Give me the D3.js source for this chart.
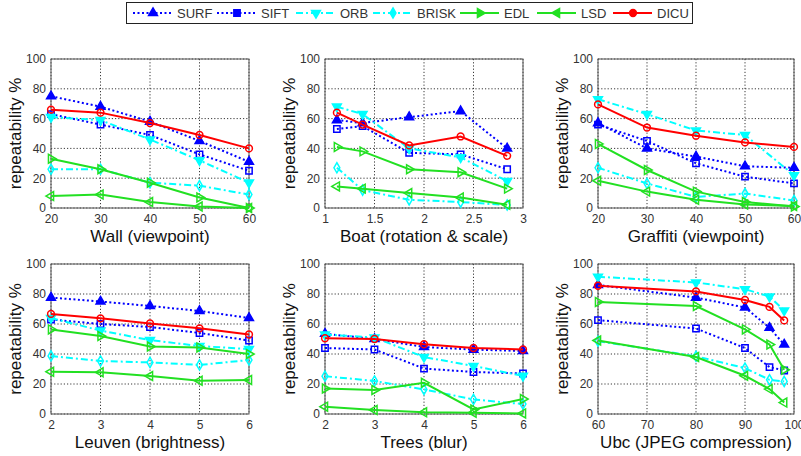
<!DOCTYPE html>
<html><head><meta charset="utf-8">
<script src="https://cdn.jsdelivr.net/npm/d3@7/dist/d3.min.js"></script>
<style>
html,body{margin:0;padding:0;background:#fff;}
svg{display:block;font-family:"Liberation Sans",Arial,sans-serif;}
</style></head>
<body><svg id="c" width="801" height="456"></svg>
<script>
const seriesNames = ["SURF","SIFT","ORB","BRISK","EDL","LSD","DICU"];
const panelLabels = ["Wall (viewpoint)","Boat (rotation & scale)","Graffiti (viewpoint)","Leuven (brightness)","Trees (blur)","Ubc (JPEG compression)"];
const yTicks = [0,20,40,60,80,100];

const wallX = [20,30,40,50,60];
const wallTicks = [20,30,40,50,60];
const wallValues = [[75,68,58,45,31],[63,56,49,36,25],[61,59,46,32,17],[26,26,17,15,9],[33,26,17,7,0],[8,9,4,1,0],[66,64,57,49,40]];

const boatX = [1.12,1.38,1.85,2.37,2.84];
const boatTicks = [1,1.5,2,2.5,3];
const boatValues = [[59,57,61,65,40],[53,55,37,36,26],[68,63,40,34,18],[27,12,5.5,4,2],[41,38,26,24,13],[14.5,13,10,7,2.2],[64,56,42,48,35]];

const graffitiX = [20,30,40,50,60];
const graffitiTicks = [20,30,40,50,60];
const graffitiValues = [[57,40,34.5,28,27],[56,45,30,21,16.5],[73,63,52,49,22],[27,16.5,7.5,9.7,5],[43,25.5,11,4,1],[18.3,11,5.6,2.3,1.4],[69.5,54,48.5,44,41]];

const leuvenX = [2,3,4,5,6];
const leuvenTicks = [2,3,4,5,6];
const leuvenValues = [[77.6,75,72,68.7,64],[63,60,58,54,49],[64,55.6,49.3,45.3,43.3],[38.7,35.3,34.4,32.7,36],[56.4,52,45,44.4,40],[28.2,27.8,25.3,22.2,22.7],[66.7,63.8,60.4,57.1,53]];

const treesX = [2,3,4,5,6];
const treesTicks = [2,3,4,5,6];
const treesValues = [[53.5,50,44.7,42.9,42],[44,43,30.3,28,27],[53,51,38,32,25.4],[25.2,22,16.4,9.7,6.6],[17,16,20.8,3,10],[4.9,2.7,1.1,0.9,0.4],[50.5,50,46.5,44,43]];

const ubcX = [60,80,90,95,98];
const ubcTicks = [60,70,80,90,100];
const ubcValues = [[86,77.6,71,57.5,46.3],[62.6,57,44,31.3,29],[91.5,87.7,83.2,78.3,69],[48.5,38.5,30.6,22.8,21.7],[74.7,72,56.4,46.3,29.5],[49,38,25.5,16.6,7.6],[85.5,81.7,76,71.4,62.4]];

// styles
const colors = ["#0000ff","#0000ff","#00ffff","#00ffff","#22e022","#22e022","#ff0000"];
const dashes = ["2,2.5","2,2.5","7,3,2,3","7,3,2,3",null,null,null];
const markerType = ["triUp","square","triDown","diamond","triRight","triLeft","circle"];
const markerFill = [true,false,true,false,false,false,false];

// layout
const colX = [[51,249],[325,523],[598,794]];
const rowY = [[59,208],[264,414]];
const legendStarts = [133,217,296,373,460,537,613];

const panels = [
  {x:wallX, ticks:wallTicks, dom:[20,60], vals:wallValues},
  {x:boatX, ticks:boatTicks, dom:[1,3], vals:boatValues},
  {x:graffitiX, ticks:graffitiTicks, dom:[20,60], vals:graffitiValues},
  {x:leuvenX, ticks:leuvenTicks, dom:[2,6], vals:leuvenValues},
  {x:treesX, ticks:treesTicks, dom:[2,6], vals:treesValues},
  {x:ubcX, ticks:ubcTicks, dom:[60,100], vals:ubcValues}
];

const svg = d3.select("#c");

function symPath(t){
  const tri = d3.symbol().type(d3.symbolTriangle).size(34)();
  switch(t){
    case "triUp": return {d:tri, rot:0};
    case "triDown": return {d:tri, rot:180};
    case "triRight": return {d:tri, rot:90};
    case "triLeft": return {d:tri, rot:-90};
    case "square": return {d:d3.symbol().type(d3.symbolSquare).size(40)(), rot:0};
    case "diamond": return {d:d3.symbol().type(d3.symbolDiamond).size(30)(), rot:0};
    case "circle": return {d:d3.symbol().type(d3.symbolCircle).size(36)(), rot:0};
  }
}

panels.forEach((p,i)=>{
  const col = i%3, row = Math.floor(i/3);
  const x = d3.scaleLinear().domain(p.dom).range(colX[col]);
  const y = d3.scaleLinear().domain([0,100]).range([rowY[row][1], rowY[row][0]]);
  const g = svg.append("g");
  const x0 = colX[col][0], x1 = colX[col][1], y0 = rowY[row][0], y1 = rowY[row][1];

  g.append("g").selectAll("line").data(p.ticks).join("line")
    .attr("x1",d=>x(d)).attr("x2",d=>x(d)).attr("y1",y0).attr("y2",y1)
    .attr("stroke","#222").attr("stroke-width",0.9).attr("stroke-dasharray","1.2,2");
  g.append("g").selectAll("line").data(yTicks).join("line")
    .attr("x1",x0).attr("x2",x1).attr("y1",d=>y(d)).attr("y2",d=>y(d))
    .attr("stroke","#222").attr("stroke-width",0.9).attr("stroke-dasharray","1.2,2");

  const ax = g.append("g").attr("transform",`translate(0,${y1})`)
    .call(d3.axisBottom(x).tickValues(p.ticks).tickSize(0).tickPadding(6).tickFormat(d3.format("~g")));
  const ay = g.append("g").attr("transform",`translate(${x0},0)`)
    .call(d3.axisLeft(y).tickValues(yTicks).tickSize(0).tickPadding(5));
  [ax,ay].forEach(a=>{
    a.select(".domain").remove();
    a.selectAll("text").attr("font-size",12).attr("fill","#333").attr("font-family","Liberation Sans, Arial, sans-serif");
  });
  g.append("rect").attr("x",x0).attr("y",y0).attr("width",x1-x0).attr("height",y1-y0)
    .attr("fill","none").attr("stroke","#555").attr("stroke-width",1);

  g.append("text").attr("x",(x0+x1)/2).attr("y",y1+34).attr("text-anchor","middle")
    .attr("font-size",17).attr("fill","#111").text(panelLabels[i]);
  g.append("text").attr("transform",`translate(${x0-30},${(y0+y1)/2}) rotate(-90)`)
    .attr("text-anchor","middle").attr("font-size",17).attr("fill","#111").text("repeatability %");

  const line = d3.line().x((d,k)=>x(p.x[k])).y(d=>y(d));
  p.vals.forEach((vals,s)=>{
    g.append("path").datum(vals).attr("d",line).attr("fill","none")
      .attr("stroke",colors[s]).attr("stroke-width",2)
      .attr("stroke-dasharray",dashes[s]);
    const sp = symPath(markerType[s]);
    g.append("g").selectAll("path").data(vals).join("path")
      .attr("d",sp.d)
      .attr("transform",(d,k)=>`translate(${x(p.x[k])},${y(d)}) rotate(${sp.rot})`)
      .attr("fill",markerFill[s]?colors[s]:"none")
      .attr("stroke",colors[s]).attr("stroke-width",1.5);
  });
});

// legend
const lg = svg.append("g");
lg.append("rect").attr("x",126.5).attr("y",2.5).attr("width",566).attr("height",21)
  .attr("fill","#fff").attr("stroke","#222").attr("stroke-width",1);
seriesNames.forEach((n,s)=>{
  const lx = legendStarts[s];
  lg.append("line").attr("x1",lx).attr("x2",lx+39).attr("y1",13).attr("y2",13)
    .attr("stroke",colors[s]).attr("stroke-width",2).attr("stroke-dasharray",dashes[s]);
  const sp = symPath(markerType[s]);
  lg.append("path").attr("d",sp.d).attr("transform",`translate(${lx+20},13) rotate(${sp.rot})`)
    .attr("fill",colors[s]).attr("stroke",colors[s]).attr("stroke-width",1.5);
  lg.append("text").attr("x",lx+44).attr("y",17.5).attr("font-size",13).attr("fill","#333").text(n);
});
</script>
</body></html>
